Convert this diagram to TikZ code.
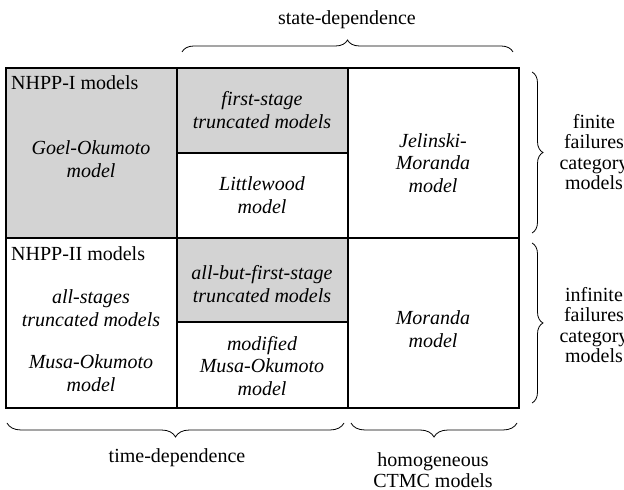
\documentclass[tikz,border=0pt]{standalone}
\usepackage{fontspec}
\setmainfont{Liberation Serif}
\usetikzlibrary{decorations.pathreplacing}
\definecolor{cellgray}{RGB}{211,211,211}
\begin{document}
\begin{tikzpicture}[x=1bp,y=1bp,
  txt/.style={inner sep=0pt,align=center,font=\fontsize{20bp}{22.5bp}\selectfont},
  itxt/.style={txt,font=\fontsize{20bp}{22.5bp}\selectfont\itshape},
  lbl/.style={inner sep=0pt,align=center,font=\fontsize{20bp}{20.5bp}\selectfont},
  gridline/.style={line width=1.3bp},
  bracestyle/.style={decorate,line width=0.8bp,decoration={brace,amplitude=13bp}}]
\useasboundingbox (0,0) rectangle (624,490);
% shaded cells
\fill[cellgray] (6,252) rectangle (177,422);
\fill[cellgray] (177,337) rectangle (348,422);
\fill[cellgray] (177,168) rectangle (348,252);
% grid
\draw[gridline] (6,82) rectangle (519,422);
\draw[gridline] (6,252) -- (519,252);
\draw[gridline] (177,82) -- (177,422);
\draw[gridline] (348,82) -- (348,422);
\draw[gridline] (177,337) -- (348,337);
\draw[gridline] (177,168) -- (348,168);
% cell texts
\node[txt,anchor=west] (nhpp1) at (11,407) {NHPP-I models};
\node[itxt] (goel) at (91,331) {Goel-Okumoto\\model};
\node[itxt] (first) at (262,380) {first-stage\\truncated models};
\node[itxt] (little) at (262,295) {Littlewood\\model};
\node[itxt] (jm) at (433,327) {Jelinski-\\Moranda\\model};
\node[txt,anchor=west] (nhpp2) at (11,236) {NHPP-II models};
\node[itxt] (allst) at (91,182) {all-stages\\truncated models};
\node[itxt] (musa) at (91,117) {Musa-Okumoto\\model};
\node[itxt] (abf) at (262,206) {all-but-first-stage\\truncated models};
\node[itxt] (mmusa) at (262,124) {modified\\Musa-Okumoto\\model};
\node[itxt] (mor) at (433,161) {Moranda\\model};
% braces
\coordinate (tb1) at (182,438); \coordinate (tb2) at (513,438);
\coordinate (rb1) at (532,418); \coordinate (rb2) at (532,257);
\coordinate (rb3) at (532,247); \coordinate (rb4) at (532,87);
\coordinate (bb1) at (344,67); \coordinate (bb2) at (7,67);
\coordinate (bb3) at (517,67); \coordinate (bb4) at (351,67);
\draw[bracestyle,decoration={amplitude=12bp}] (tb1) -- (tb2);
\draw[bracestyle,decoration={amplitude=11bp}] (rb1) -- (rb2);
\draw[bracestyle,decoration={amplitude=11bp}] (rb3) -- (rb4);
\draw[bracestyle,decoration={amplitude=14bp}] (bb1) -- (bb2);
\draw[bracestyle,decoration={amplitude=14bp}] (bb3) -- (bb4);
% brace labels
\node[lbl] (state) at (347,470) {state-dependence};
\node[lbl] (finite) at (594,338) {finite\\failures\\category\\models};
\node[lbl] (infinite) at (594,165) {infinite\\failures\\category\\models};
\node[lbl] (time) at (177,32) {time-dependence};
\node[lbl] (homog) at (433,20) {homogeneous\\CTMC models};
\end{tikzpicture}
\end{document}
